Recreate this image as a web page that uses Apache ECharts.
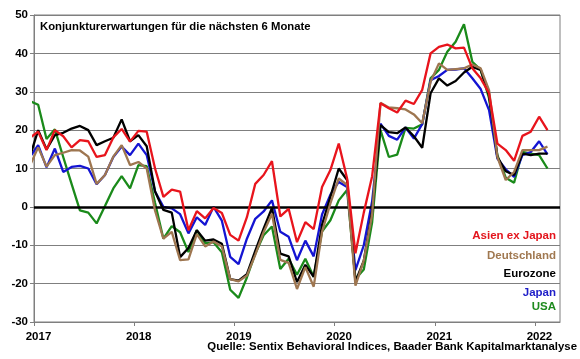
<!DOCTYPE html>
<html>
<head>
<meta charset="utf-8">
<script src="https://cdn.jsdelivr.net/npm/echarts@6/dist/echarts.min.js"></script>
<style>
html,body{margin:0;padding:0;background:#fff;}
#c{width:580px;height:359px;}
</style>
</head>
<body>
<div id="c"></div>
<script>
// Monthly observations, Dec 2016 .. Feb 2022 (Dec 2016 lies before the axis start and is clipped)
const startYear = 2016, startMonth = 12, nPoints = 63;
const yearLabels = ['2017','2018','2019','2020','2021','2022'];

const asienExJapan = [18,19.6,14.8,20,18.4,15.5,17.4,17.1,13,13.5,18.1,20.3,17,19.8,19.6,10,2.6,4.5,4,-6.1,-1.1,-3,-0.3,-1.6,-7.3,-8.8,-2.7,6,8.3,11.9,-2.5,-0.5,-9.2,-4,-5.8,5.2,9.6,16.5,7.4,-12.1,-1.5,8,27,25.7,24.6,27.7,26.8,30.5,40,41.7,42.3,41.3,41.5,36.1,33.5,29.6,16.5,14.8,12,18.5,19.6,23.5,20];
const deutschland = [10.7,15.5,10.5,13.5,14.1,14.8,14.7,13.1,6,8.3,13.1,16.1,10.9,11.7,10,-1,-8.3,-6.5,-13.9,-13.7,-7.1,-10.3,-9,-10.3,-18.8,-19.4,-17.9,-12.5,-6.6,-1.8,-13.8,-14.6,-21.4,-15.7,-20.8,-6.5,0.9,7.4,5.7,-20.5,-14,-2,27.1,25.9,25.7,25.4,24.1,21.8,32.6,37.4,35.7,35.9,36.1,37.1,36.1,30.4,13,7,9.1,14.8,14.8,14.8,15.7];
const eurozone = [13,20,15,18.7,19.3,20.4,21.1,20,16.1,17.1,18,22.8,17.1,18.7,15.8,4,-0.8,-1.5,-13.1,-10.7,-6.1,-8.8,-8.5,-9.6,-18.8,-19.2,-17.5,-11.5,-5.7,-0.3,-12.2,-12.9,-19.6,-15.1,-18.2,-4.7,2.6,10,7,-19.5,-14,-1,21.3,19.5,19.2,20.7,18.4,15.4,29.6,33.5,31.6,32.8,35,36.5,35.7,29.1,13,9.3,8.3,13.9,13.5,13.9,13.9];
const japan = [13,16.1,10.3,15.2,9.1,10.4,10.7,10,5.9,8.3,13,15.7,13.5,16.5,13.5,4,0,-0.4,-1.9,-6.9,-2.7,-4.7,0,-3.6,-13,-14.9,-8.3,-3.1,-1.2,1.7,-6.5,-7.8,-13.9,-8.8,-12.9,-2,3.2,6.5,5.2,-16.5,-10,1.5,21.7,18.5,17.5,20.7,17.8,21.6,33,34.1,35.7,35.8,36.1,33.5,30.7,25.2,12.6,9.8,7.8,13.5,14.3,17.1,13.7];
const usa = [27.6,26.6,17.7,20.2,13,6,-0.9,-1.5,-4.3,0.2,4.8,8,4.8,10.9,10.6,1,-8.3,-5,-6.6,-11.8,-6.1,-9.5,-9.2,-11.8,-21.6,-23.7,-18.4,-12.2,-7.4,-5.1,-16.2,-13.5,-17.7,-13.5,-18.2,-6.4,-3.5,1.7,4.4,-18.8,-16.3,-4,20,13,13.6,20.6,20.4,21.5,33.5,35.7,40.4,43,47.6,37.8,35.7,28.3,13.5,7.6,6.3,14.3,13.9,13.5,10];

const seriesNames = ['Asien ex Japan','Deutschland','Eurozone','Japan','USA'];
const seriesColors = ['#e8141c','#9e7650','#000000','#1414d2','#1a8a1a'];
const legendColors = ['#e3141c','#a07850','#000000','#1e1ec8','#1e8a1e'];

// x position: months since Jan 2017, observation at mid-month
const xs = [];
for (let i = 0; i < nPoints; i++) {
  const mIdx = (startYear - 2017) * 12 + (startMonth - 1) + i;
  xs.push(mIdx + 0.5);
}
const pair = arr => arr.map((v, i) => [xs[i], v]);
const allData = [asienExJapan, deutschland, eurozone, japan, usa];

const font = 'Liberation Sans, Arial, sans-serif';
const chart = echarts.init(document.getElementById('c'), null, {renderer: 'canvas'});

const drawOrder = [4, 3, 2, 1, 0]; // USA first, Asien on top
const series = drawOrder.map((idx, j) => {
  const s = {
    name: seriesNames[idx],
    type: 'line',
    data: pair(allData[idx]),
    symbol: 'none',
    clip: true,
    lineStyle: {color: seriesColors[idx], width: 2.3},
    itemStyle: {color: seriesColors[idx]},
    z: 3 + j,
    animation: false
  };
  if (j === 0) {
    s.markLine = {
      silent: true,
      symbol: 'none',
      label: {show: false},
      lineStyle: {color: '#000', width: 2.5, type: 'solid'},
      data: [{yAxis: 0}],
      animation: false
    };
  }
  return s;
});

const legendY = [237, 257, 275, 294, 308];
const graphics = seriesNames.map((n, i) => ({
  type: 'text',
  right: 24,
  top: legendY[i] - 7,
  style: {text: n, fill: legendColors[i], font: 'bold 11.5px ' + font, textAlign: 'right'}
}));
graphics.push({
  type: 'text', left: 40, top: 21,
  style: {text: 'Konjunkturerwartungen für die nächsten 6 Monate', fill: '#000', font: 'bold 11.3px ' + font}
});
graphics.push({
  type: 'text', right: 3, top: 341,
  style: {text: 'Quelle: Sentix Behavioral Indices, Baader Bank Kapitalmarktanalyse', fill: '#000', font: 'bold 11.4px ' + font, textAlign: 'right'}
});

chart.setOption({
  animation: false,
  backgroundColor: '#fff',
  grid: {left: 34, right: 20, top: 15, bottom: 37, show: true, borderColor: '#7f7f7f', borderWidth: 1, containLabel: false},
  xAxis: {
    type: 'value', min: 0, max: 63,
    axisLine: {show: true, onZero: false, lineStyle: {color: '#7f7f7f', width: 1}},
    axisTick: {show: true, inside: false, length: 4, lineStyle: {color: '#7f7f7f'}, customValues: [0,12,24,36,48,60]},
    axisLabel: {
      customValues: [0,12,24,36,48,60],
      formatter: v => yearLabels[Math.round(v / 12)] || '',
      fontFamily: font, fontWeight: 'bold', fontSize: 11.5, color: '#000', margin: 9,
      padding: [0, 0, 0, 9]
    },
    splitLine: {show: false}
  },
  yAxis: {
    type: 'value', min: -30, max: 50, interval: 10,
    axisLine: {show: true, lineStyle: {color: '#7f7f7f', width: 1}},
    axisTick: {show: true, inside: false, length: 4, lineStyle: {color: '#7f7f7f'}},
    axisLabel: {fontFamily: font, fontWeight: 'bold', fontSize: 11.5, color: '#000', margin: 6},
    splitLine: {show: true, lineStyle: {color: '#7f7f7f', width: 1}}
  },
  graphic: graphics,
  series: series
});
</script>
</body>
</html>
